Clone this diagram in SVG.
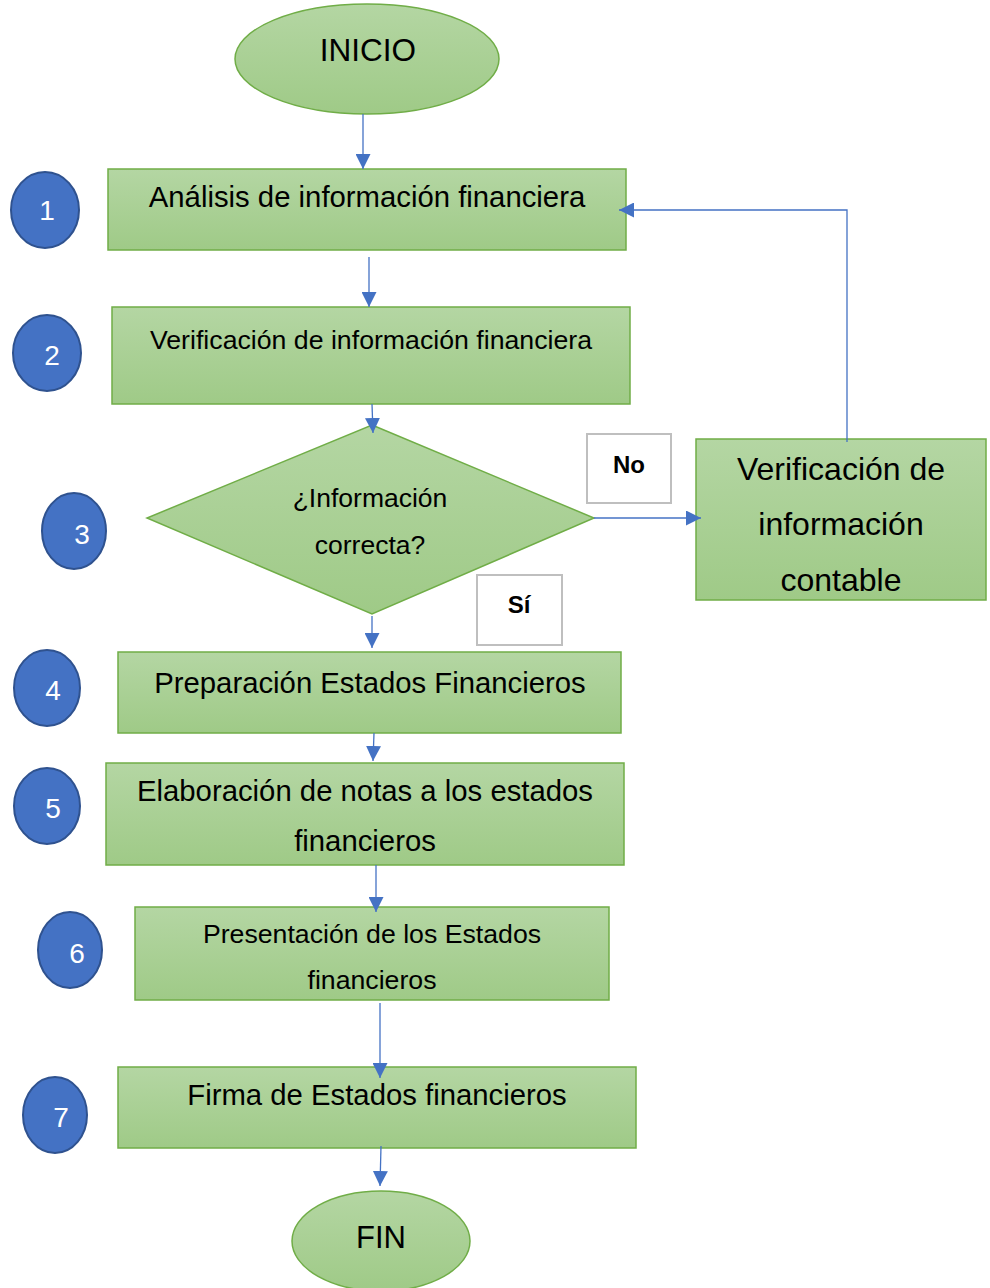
<svg xmlns="http://www.w3.org/2000/svg" width="990" height="1288" viewBox="0 0 990 1288">
<defs>
<linearGradient id="g" x1="0" y1="0" x2="0" y2="1">
<stop offset="0" stop-color="#B4D6A3"/>
<stop offset="1" stop-color="#9FCA87"/>
</linearGradient>
<marker id="ah2" viewBox="0 0 10 10" refX="10" refY="5" markerWidth="15" markerHeight="15" markerUnits="userSpaceOnUse" orient="auto">
<path d="M0,0 L10,5 L0,10 z" fill="#4472C4"/>
</marker>
</defs>
<style>
.sh{fill:url(#g);stroke:#70AD47;stroke-width:1.5}
.t{font-family:"Liberation Sans",Arial,sans-serif;fill:#000;text-anchor:middle}
.c{fill:#4472C4;stroke:#2F528F;stroke-width:2}
.n{font-family:"Liberation Sans",Arial,sans-serif;fill:#fff;text-anchor:middle;font-size:28px}
.lb{fill:#fff;stroke:#BFBFBF;stroke-width:2}
.lt{font-family:"Liberation Sans",Arial,sans-serif;font-weight:bold;font-size:24px;text-anchor:middle;fill:#000}
.e{fill:none;stroke:#4472C4;stroke-width:1.3;marker-end:url(#ah2)}
</style>
<rect width="990" height="1288" fill="#fff"/>

<g id="inicio">
<ellipse class="sh" cx="367" cy="59" rx="132" ry="55"/>
<text class="t" x="368" y="61" font-size="31.5">INICIO</text>
</g>

<g id="step1">
<rect class="sh" x="108" y="169" width="518" height="81"/>
<text class="t" x="367" y="207" font-size="29.3">Análisis de información financiera</text>
</g>
<g id="num1"><ellipse class="c" cx="45" cy="210" rx="34" ry="38"/><text class="n" x="47" y="220">1</text></g>

<g id="step2">
<rect class="sh" x="112" y="307" width="518" height="97"/>
<text class="t" x="371" y="349" font-size="26.7">Verificación de información financiera</text>
</g>
<g id="num2"><ellipse class="c" cx="47" cy="353" rx="34" ry="38"/><text class="n" x="52" y="365">2</text></g>

<g id="decision">
<polygon class="sh" points="372,425 594,518 372,614 147,518"/>
<text class="t" x="370" y="507" font-size="26.5">¿Información</text>
<text class="t" x="370" y="554" font-size="26.5">correcta?</text>
</g>
<g id="num3"><ellipse class="c" cx="74" cy="531" rx="32" ry="38"/><text class="n" x="82" y="544">3</text></g>

<g id="label-no">
<rect class="lb" x="587" y="434" width="84" height="69"/>
<text class="lt" x="629" y="473">No</text>
</g>
<g id="label-si">
<rect class="lb" x="477" y="575" width="85" height="70"/>
<text class="lt" x="519" y="613">Sí</text>
</g>

<g id="verif-contable">
<rect class="sh" x="696" y="439" width="290" height="161"/>
<text class="t" x="841" y="480" font-size="32">Verificación de</text>
<text class="t" x="841" y="535" font-size="32">información</text>
<text class="t" x="841" y="591" font-size="32">contable</text>
</g>

<g id="step4">
<rect class="sh" x="118" y="652" width="503" height="81"/>
<text class="t" x="370" y="693" font-size="29.3">Preparación Estados Financieros</text>
</g>
<g id="num4"><ellipse class="c" cx="47" cy="688" rx="33" ry="38"/><text class="n" x="53" y="700">4</text></g>

<g id="step5">
<rect class="sh" x="106" y="763" width="518" height="102"/>
<text class="t" x="365" y="801" font-size="29.3">Elaboración de notas a los estados</text>
<text class="t" x="365" y="851" font-size="29.3">financieros</text>
</g>
<g id="num5"><ellipse class="c" cx="47" cy="806" rx="33" ry="38"/><text class="n" x="53" y="818">5</text></g>

<g id="step6">
<rect class="sh" x="135" y="907" width="474" height="93"/>
<text class="t" x="372" y="943" font-size="26.7">Presentación de los Estados</text>
<text class="t" x="372" y="989" font-size="26.7">financieros</text>
</g>
<g id="num6"><ellipse class="c" cx="70" cy="950" rx="32" ry="38"/><text class="n" x="77" y="963">6</text></g>

<g id="step7">
<rect class="sh" x="118" y="1067" width="518" height="81"/>
<text class="t" x="377" y="1105" font-size="29.3">Firma de Estados financieros</text>
</g>
<g id="num7"><ellipse class="c" cx="55" cy="1115" rx="32" ry="38"/><text class="n" x="61" y="1127">7</text></g>

<g id="fin">
<ellipse class="sh" cx="381" cy="1241" rx="89" ry="50"/>
<text class="t" x="381" y="1248" font-size="31">FIN</text>
</g>

<g id="connectors">
<path class="e" d="M363,114 L363,169"/>
<path class="e" d="M369,257 L369,307"/>
<path class="e" d="M372,404 L373,433"/>
<path class="e" d="M594,518 L701,518"/>
<path class="e" d="M847,442 L847,210 L619,210"/>
<path class="e" d="M372,616 L372,648"/>
<path class="e" d="M374,733 L373,761"/>
<path class="e" d="M376,865 L376,912"/>
<path class="e" d="M380,1003 L380,1078"/>
<path class="e" d="M381,1146 L380,1186"/>
</g>
</svg>
